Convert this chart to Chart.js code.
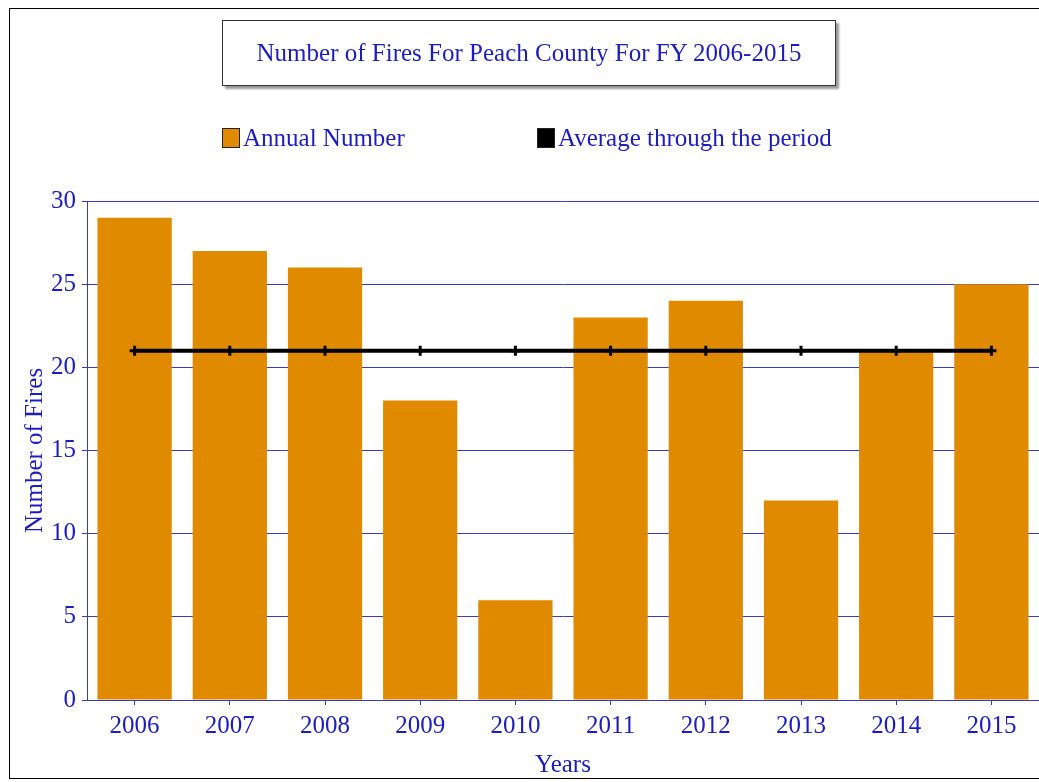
<!DOCTYPE html>
<html>
<head>
<meta charset="utf-8">
<script src="https://cdn.jsdelivr.net/npm/chart.js@4"></script>
<style>
  body { margin: 0; background: #fff; font-family: "Liberation Serif", "Times New Roman", serif; }
  #wrap { position: relative; width: 1039px; height: 782px; overflow: hidden; }
  #frame { position: absolute; left: 9px; top: 8px; width: 1100px; height: 771px; border: 1px solid #000; box-sizing: border-box; }
  #title-box { position: absolute; left: 222px; top: 20px; width: 614px; height: 66px; border: 1px solid #333; background: #fff;
    box-shadow: 3px 3px 2px #999; box-sizing: border-box; color: #1c1cc0; font-size: 25px; text-align: center; line-height: 64px; }
  .legend { position: absolute; top: 125px; color: #1c1cc0; font-size: 25px; line-height: 25px; white-space: nowrap; }
  .legend span.sw { display: inline-block; width: 18px; height: 20px; box-sizing: border-box; border: 1px solid #222; vertical-align: -2px; margin-right: 3px; }
  canvas { position: absolute; left: 0; top: 0; }
</style>
</head>
<body>
<div id="wrap">
  <div id="frame"></div>
  <canvas id="chart" width="1039" height="782"></canvas>
  <div id="title-box">Number of Fires For Peach County For FY 2006-2015</div>
  <div class="legend" style="left:222px"><span class="sw" style="background:#e08a00"></span>Annual Number</div>
  <div class="legend" style="left:537px"><span class="sw" style="background:#000"></span>Average through the period</div>
</div>
<script>
// Data
const years = ['2006', '2007', '2008', '2009', '2010', '2011', '2012', '2013', '2014', '2015'];
const annualFires = [29, 27, 26, 18, 6, 23, 24, 12, 21, 25];
const averageFires = [21, 21, 21, 21, 21, 21, 21, 21, 21, 21];
const yTicks = [0, 5, 10, 15, 20, 25, 30];

const blue = '#1c1cc0';
const gridBlue = '#3a3ac8';
const serif = { family: 'Liberation Serif', size: 25 };

const ctx = document.getElementById('chart').getContext('2d');
new Chart(ctx, {
  type: 'bar',
  data: {
    labels: years,
    datasets: [
      {
        type: 'line',
        label: 'Average through the period',
        data: averageFires,
        borderColor: '#000',
        borderWidth: 4,
        pointStyle: 'cross',
        pointRadius: 5,
        pointBorderWidth: 3,
        pointBorderColor: '#000',
        order: 0
      },
      {
        label: 'Annual Number',
        data: annualFires,
        backgroundColor: '#e08a00',
        categoryPercentage: 1,
        barPercentage: 0.78,
        order: 1
      }
    ]
  },
  options: {
    responsive: false,
    animation: false,
    layout: { autoPadding: false, padding: { top: 201, left: 0, right: 0, bottom: 0 } },
    plugins: { legend: { display: false }, tooltip: { enabled: false } },
    scales: {
      x: {
        afterFit: s => { s.height = 82; },
        grid: { drawOnChartArea: false, offset: false, tickLength: 5, color: gridBlue },
        border: { color: gridBlue, width: 1 },
        ticks: { color: blue, font: serif, padding: 6, maxRotation: 0 },
        title: { display: true, text: 'Years', color: blue, font: serif, padding: { top: 0, bottom: 2 } }
      },
      y: {
        min: 0,
        max: 30,
        afterFit: s => { s.width = 87; },
        afterBuildTicks: s => { s.ticks = yTicks.map(v => ({ value: v })); },
        grid: { color: gridBlue, tickLength: 5, lineWidth: 1 },
        border: { color: gridBlue, width: 1 },
        ticks: { color: blue, font: serif, padding: 6 },
        title: { display: true, text: 'Number of Fires', color: blue, font: serif, padding: { top: 20, bottom: 0 } }
      }
    }
  }
});
</script>
</body>
</html>
